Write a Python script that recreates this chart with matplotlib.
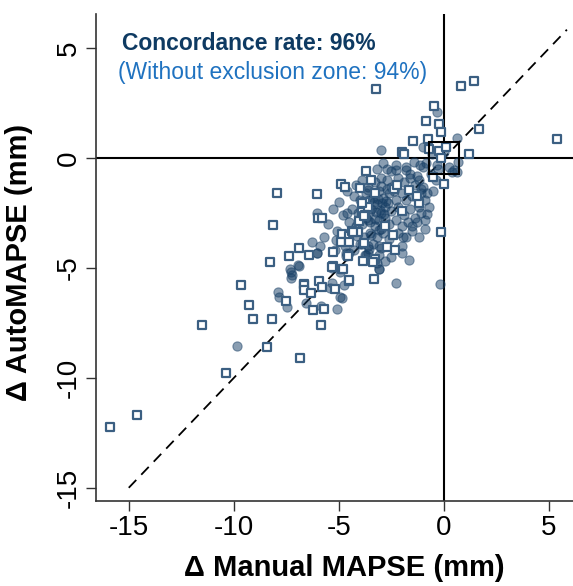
import matplotlib
matplotlib.use("Agg")
import matplotlib.pyplot as plt
import matplotlib.patches as mpatches

plt.rcParams['font.family'] = ['Liberation Sans', 'DejaVu Sans']
plt.rcParams['axes.unicode_minus'] = False

# values (mm)
# open squares: cases outside the concordance quadrants / exclusion zone
sq_x = [-0.49, -0.86, -0.26, -0.14, 1.69, -1.46, -0.76, -1.98, -1.89, -0.70,
        -0.22, 1.20, -0.13, -0.52, -0.02, -3.71, -4.90, -4.72, -7.94, -6.02,
        -8.15, -6.00, -5.80, -0.13, -4.00, -3.47, -3.30, -3.74, -3.90, -3.60,
        -2.40, -2.24, -1.67, -1.19, -1.30, -2.79, -2.43, -2.71, -2.32, -3.27,
        -3.35, -3.87, -4.06, -4.54, -4.85, -5.30, -6.68, -7.37, -6.91, -6.40,
        -8.26, -5.30, -4.85, -4.50, -4.40, -4.10, -4.90, -3.75, -2.00,
        -9.64, -9.29, -9.07, -8.18, -11.50, -8.40, -10.37, -6.85, -14.60, -15.90,
        -7.51, -6.66, -6.66, -6.32, -6.25, -5.71, -5.87, -5.96, -5.80, -5.20,
        -5.34, -4.82, -4.52, -4.57, -4.54, -4.33, -4.03, -3.79, -3.90, -3.79,
        -2.80, 0.79, 1.41, -3.25, 5.40, 0.10, -3.38]
sq_y = [2.39, 1.71, 1.56, 1.21, 1.33, 0.80, 0.86, 0.30, 0.20, 0.41,
        0.33, 0.20, 0.00, -0.84, -1.17, -0.58, -1.17, -1.30, -1.59, -1.62,
        -3.02, -2.73, -2.73, -3.35, -1.36, -0.99, -1.60, -2.00, -2.45, -2.20,
        -1.41, -1.20, -1.44, -2.05, -1.70, -3.08, -3.49, -4.02, -4.17, -4.59,
        -5.50, -4.70, -2.85, -5.60, -5.05, -4.90, -5.73, -4.47, -4.08, -4.40,
        -4.74, -4.28, -3.44, -3.55, -3.30, -3.35, -3.80, -2.60, -2.40,
        -5.76, -6.70, -7.30, -7.30, -7.59, -8.59, -9.79, -9.11, -11.68, -12.25,
        -6.49, -5.76, -6.02, -6.15, -6.90, -6.85, -7.60, -5.58, -5.84, -5.94,
        -4.95, -5.05, -5.56, -4.47, -3.82, -3.36, -2.88, -2.62, -2.05, -3.84,
        -3.10, 3.27, 3.51, 3.14, 0.86, 0.53, -4.73]

# filled circles
circ_x = [-6.04, -4.61, -6.30, -6.04, -5.14, -5.20, -7.31, -6.94, -7.21, -7.86,
          -7.47, -9.83, -4.87, -5.07, -4.75, -5.41, -4.68, -4.50, -6.55, -5.83,
          -4.14, -3.90, -3.58, -3.19, -3.09, -2.80, -3.70, -3.00, -3.45,
          -0.33, 0.62, -3.00, -1.02, -1.45, -1.13, -0.86, -0.33, 0.24, 0.38,
          0.60, 0.67, 0.00, -2.71, -2.28, -1.80, -1.60, -1.30, -6.05, -6.91,
          -7.30, -7.30, -7.90, -4.66, -5.33, -4.94, -5.32, -4.94, -1.68, -2.28,
          -0.18, -1.50, -1.30, -0.80, -1.10, -1.10, -1.95, -2.00, -3.10, -3.60,
          -3.08, -3.74, -0.56, 0.50,
          -4.20, -3.90, -3.60, -3.30, -3.00, -2.70, -2.50, -2.20, -1.90, -1.60,
          -1.40, -1.20, -1.00, -0.80, -4.30, -4.00, -3.70, -3.40, -3.10, -2.90,
          -2.60, -2.30, -2.00, -1.80, -1.50, -1.20, -0.90, -4.40, -4.10, -3.80,
          -3.50, -3.20, -3.00, -2.80, -2.50, -2.20, -1.90, -1.60, -1.40, -1.10,
          -4.50, -4.20, -3.90, -3.60, -3.30, -3.10, -2.80, -2.60, -2.30, -2.00,
          -1.70, -3.50, -3.20, -2.90, -2.60, -3.80, -4.00, -3.40, -3.00, -2.20,
          -1.80, -1.50, -0.90, -0.70, -0.50, -0.40, -0.60, -1.80, -2.50, -3.20,
          -4.60, -5.00, -5.30, -4.80, -5.50, -5.10, -4.70, -4.30, -3.60, -3.10,
          -2.50, -2.00, -1.20, -0.90, -5.70, -5.90, -1.00, -0.30, -2.30, -2.90,
          -3.55, -3.35, -3.15, -2.95, -2.75, -3.45, -3.25, -3.05, -2.85, -2.65,
          -3.70, -3.50, -3.30, -3.10, -2.40, -2.70, -3.00, -3.60]
circ_y = [-2.50, -2.50, -3.82, -4.32, -3.74, -4.16, -5.05, -4.86, -5.30, -6.34,
          -6.76, -8.53, -6.38, -6.86, -5.76, -5.91, -4.44, -4.30, -6.59, -6.71,
          -3.56, -3.90, -4.14, -4.77, -5.03, -4.70, -4.40, -3.20, -3.50,
          2.09, 0.91, 0.38, 0.53, -0.17, -0.30, -0.23, -0.30, -0.38, -0.65,
          -0.65, -0.17, 0.30, -0.50, -0.55, -0.55, -0.70, -0.82, -4.30, -4.90,
          -5.20, -5.43, -6.10, -4.30, -5.00, -5.20, -5.70, -6.30, -4.62, -5.68,
          -5.73, -3.10, -2.90, -2.55, -1.40, -1.60, -3.60, -4.00, -4.00, -4.00,
          -5.03, -4.40, 0.20, -0.55,
          -1.20, -1.00, -1.30, -1.10, -0.90, -1.00, -1.30, -0.90, -1.10, -0.90,
          -1.20, -1.00, -1.30, -1.60, -1.70, -1.90, -1.60, -1.80, -1.50, -1.80,
          -1.60, -1.90, -1.60, -1.90, -1.70, -2.20, -1.90, -2.30, -2.50, -2.20,
          -2.40, -2.10, -2.50, -2.20, -2.40, -2.20, -2.60, -2.30, -2.70, -2.50,
          -2.90, -3.10, -3.00, -2.80, -3.10, -2.80, -2.70, -3.00, -2.80, -3.10,
          -2.90, -3.40, -3.60, -3.40, -3.70, -3.60, -3.90, -3.90, -4.10, -3.40,
          -3.60, -3.30, -2.80, -2.20, -1.50, -1.00, -0.70, -0.40, -0.60, -0.50,
          -1.50, -2.00, -2.30, -2.60, -3.00, -3.30, -4.00, -4.20, -4.30, -4.40,
          -4.50, -4.30, -3.60, -3.20, -3.60, -4.00, -0.40, -0.50, -0.30, -0.20,
          -1.90, -2.00, -1.85, -2.05, -1.95, -2.30, -2.45, -2.35, -2.55, -2.05,
          -2.70, -2.90, -2.75, -3.25, -1.50, -1.40, -1.25, -1.45]

concordance = 96
concordance_no_zone = 94
zone = 0.72

fig = plt.figure(figsize=(5.73, 5.86), dpi=100)
ax = fig.add_axes([0.1675, 0.1455, 0.8325, 0.8305])

navy = '#173f66'
ax.axhline(0, color='black', lw=1.5, zorder=1)
ax.axvline(0, color='black', lw=1.5, zorder=1)
ax.plot([-15, 5.85], [-15, 5.85], color='black', ls=(0, (6, 4)), lw=1.3, zorder=1)

ax.scatter(circ_x, circ_y, s=44, color=navy, alpha=0.5, edgecolors=navy,
           linewidths=0.8, zorder=2)
ax.scatter(sq_x, sq_y, s=36, marker='s', facecolors='white', edgecolors='#3b5f82',
           linewidths=1.6, zorder=3)

ax.add_patch(mpatches.Rectangle((-zone, -zone), 2 * zone, 2 * zone, fill=False,
                                edgecolor='black', lw=1.5, zorder=4))

ax.text(-15.3, 5.2, f'Concordance rate: {concordance}%', fontsize=16.5,
        fontweight='bold', color='#0e3a62', ha='left', va='center')
ax.text(-15.5, 3.9, f'(Without exclusion zone: {concordance_no_zone}%)', fontsize=16.5,
        color='#1f72c0', ha='left', va='center')

ax.set_xlim(-16.56, 6.14)
ax.set_ylim(-15.59, 6.56)
ax.set_xticks([-15, -10, -5, 0, 5])
ax.set_yticks([-15, -10, -5, 0, 5])
ax.tick_params(axis='both', labelsize=20, length=7, width=1, color='#333333')
for lab in ax.get_yticklabels():
    lab.set_rotation(90)
    lab.set_va('center')
for s in ['top', 'right']:
    ax.spines[s].set_visible(False)
for s in ['left', 'bottom']:
    ax.spines[s].set_linewidth(1.2)
    ax.spines[s].set_color('#333333')

ax.set_xlabel('Δ Manual MAPSE (mm)', fontsize=21, fontweight='bold')
ax.set_ylabel('Δ AutoMAPSE (mm)', fontsize=21, fontweight='bold')
ax.xaxis.set_label_coords(0.52, -0.11)
ax.yaxis.set_label_coords(-0.132, 0.49)

fig.savefig('out.png', dpi=100)
